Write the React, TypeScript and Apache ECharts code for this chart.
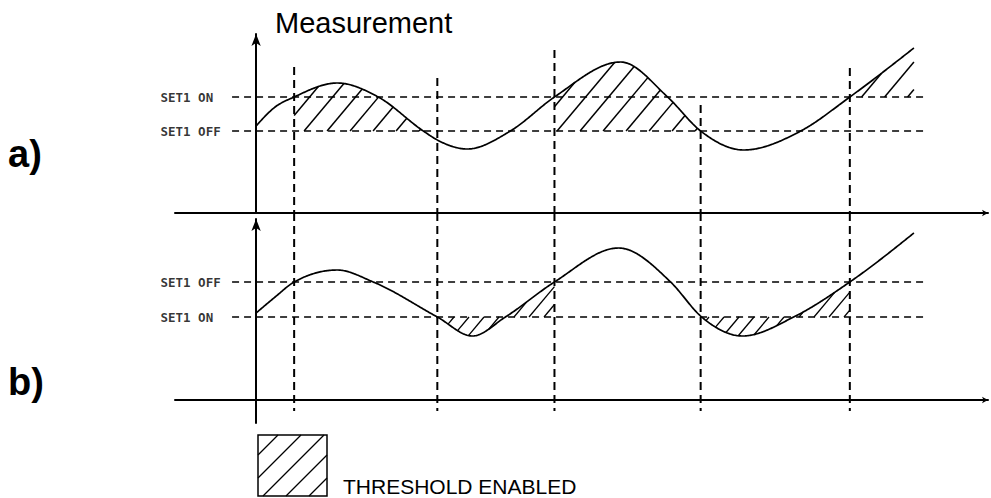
import React, { useEffect, useRef } from "react";
import * as echarts from "echarts";

// Measurement curve, panel a) : time (arbitrary units) and measured value
const curveTimeA = [0, 1.9, 3.8, 8.1, 12.2, 16.7, 18.1, 21.1, 25.4, 29.8, 36.4, 41.1, 44.4, 48.7, 54.4, 59.3, 65.7];
const curveValueA = [8.7, 10.6, 11.6, 13.0, 11.6, 8.2, 7.3, 6.4, 8.2, 11.6, 15.1, 11.6, 8.2, 6.3, 8.2, 11.6, 16.5];
// Measurement curve, panel b)
const curveTimeB = [0, 1.9, 3.8, 8.1, 11.7, 18.1, 21.6, 24.9, 29.8, 36.2, 41.4, 44.5, 48.6, 53.7, 59.3, 65.7];
const curveValueB = [8.7, 10.3, 11.8, 13.0, 11.8, 8.3, 6.4, 8.3, 11.8, 15.2, 11.8, 8.3, 6.4, 8.3, 11.8, 16.7];

// Thresholds
const thresholdNames = ["SET1 ON", "SET1 OFF"];
const thresholdA = [11.6, 8.2];
const thresholdB = [8.3, 11.8];
const thresholdSpanA = [-2.4, 66.7];
const thresholdSpanB = [-2.4, 66.9];

// Switching instants (vertical dashed lines)
const switchTimes = [3.8, 18.1, 29.8, 44.4, 59.3];
const switchTopA = [14.6, 13.5, 16.3, 10.8, 14.5];
const switchSpanB = [18.7, -1.1];

// Threshold enabled intervals (hatched)
const hatchStartA = [3.8, 29.8, 59.3];
const hatchEndA = [18.1, 44.4, 65.7];
const hatchLevelA = [8.2, 8.2, 11.6];
const hatchStartB = [18.1, 44.4];
const hatchEndB = [29.8, 59.3];
const hatchLevelB = [8.3, 8.3];

function monotone(xs: number[], ys: number[]) {
  const n = xs.length;
  const h: number[] = [];
  const s: number[] = [];
  for (let i = 0; i < n - 1; i++) {
    h.push(xs[i + 1] - xs[i]);
    s.push((ys[i + 1] - ys[i]) / h[i]);
  }
  const m: number[] = new Array(n).fill(0);
  for (let i = 1; i < n - 1; i++) {
    const s0 = s[i - 1], s1 = s[i], h0 = h[i - 1], h1 = h[i];
    const p = (s0 * h1 + s1 * h0) / (h0 + h1);
    m[i] = (Math.sign(s0) + Math.sign(s1)) * Math.min(Math.abs(s0), Math.abs(s1), 0.5 * Math.abs(p)) || 0;
  }
  m[0] = (3 * s[0] - m[1]) / 2;
  m[n - 1] = (3 * s[n - 2] - m[n - 2]) / 2;
  return (x: number) => {
    let i = 0;
    while (i < n - 2 && x > xs[i + 1]) i++;
    const hh = h[i];
    const t = (x - xs[i]) / hh;
    const t2 = t * t, t3 = t2 * t;
    return (2 * t3 - 3 * t2 + 1) * ys[i] + (t3 - 2 * t2 + t) * hh * m[i] + (-2 * t3 + 3 * t2) * ys[i + 1] + (t3 - t2) * hh * m[i + 1];
  };
}

function hatchSegments(poly: number[][], spacing: number, angleDeg: number) {
  const a = (angleDeg * Math.PI) / 180;
  const nx = Math.sin(a), ny = Math.cos(a);
  const dx = Math.cos(a), dy = -Math.sin(a);
  const proj = poly.map((p) => p[0] * nx + p[1] * ny);
  const cmin = Math.min(...proj), cmax = Math.max(...proj);
  const step = spacing * nx;
  const segs: number[][][] = [];
  for (let k = Math.ceil(cmin / step); k <= Math.floor(cmax / step); k++) {
    const c = k * step;
    const pts: number[][] = [];
    for (let i = 0; i < poly.length; i++) {
      const j = (i + 1) % poly.length;
      const v1 = proj[i] - c, v2 = proj[j] - c;
      if ((v1 < 0) !== (v2 < 0)) {
        const t = v1 / (v1 - v2);
        const x = poly[i][0] + t * (poly[j][0] - poly[i][0]);
        const y = poly[i][1] + t * (poly[j][1] - poly[i][1]);
        pts.push([x, y, x * dx + y * dy]);
      }
    }
    pts.sort((u, v) => u[2] - v[2]);
    for (let q = 0; q + 1 < pts.length; q += 2) segs.push([pts[q], pts[q + 1]]);
  }
  return segs;
}

function curvePixels(api: any, ts: number[], vs: number[]) {
  const pts = ts.map((t, i) => api.coord([t, vs[i]]));
  const xs = pts.map((p: number[]) => p[0]);
  const ys = pts.map((p: number[]) => p[1]);
  return { xs, ys, f: monotone(xs, ys) };
}

function makeCurveSeries(gi: number, ts: number[], vs: number[]) {
  return {
    type: "custom",
    xAxisIndex: gi,
    yAxisIndex: gi,
    silent: true,
    z: 5,
    data: [[ts[0], vs[0]]],
    renderItem: (params: any, api: any) => {
      const { xs, f } = curvePixels(api, ts, vs);
      const points: number[][] = [];
      for (let x = xs[0]; x < xs[xs.length - 1]; x += 1) points.push([x, f(x)]);
      points.push([xs[xs.length - 1], f(xs[xs.length - 1])]);
      return {
        type: "polyline",
        shape: { points },
        style: { stroke: "#000", lineWidth: 1.7, fill: "none" },
      };
    },
  };
}

function makeHatchSeries(gi: number, ts: number[], vs: number[], starts: number[], ends: number[], levels: number[], onlyAbove: boolean, spacing: number, angle: number, lw: number) {
  return {
    type: "custom",
    xAxisIndex: gi,
    yAxisIndex: gi,
    silent: true,
    z: 4,
    encode: { x: [0, 1], y: 2 },
    data: starts.map((s, i) => [s, ends[i], levels[i]]),
    renderItem: (params: any, api: any) => {
      const { f } = curvePixels(api, ts, vs);
      const p0 = api.coord([api.value(0), api.value(2)]);
      const p1 = api.coord([api.value(1), api.value(2)]);
      const Ly = p0[1];
      const poly: number[][] = [];
      for (let x = p0[0]; x < p1[0]; x += 1) {
        const y = f(x);
        poly.push([x, onlyAbove ? Math.min(y, Ly) : y]);
      }
      const ye = f(p1[0]);
      poly.push([p1[0], onlyAbove ? Math.min(ye, Ly) : ye]);
      poly.push([p1[0], Ly]);
      poly.push([p0[0], Ly]);
      const segs = hatchSegments(poly, spacing, angle);
      return {
        type: "group",
        children: segs.map((sg) => ({
          type: "line",
          shape: { x1: sg[0][0], y1: sg[0][1], x2: sg[1][0], y2: sg[1][1] },
          style: { stroke: "#000", lineWidth: lw },
        })),
      };
    },
  };
}

function makeVerticalSeries(gi: number, times: number[], tops: number[], bottoms: number[]) {
  return {
    type: "custom",
    xAxisIndex: gi,
    yAxisIndex: gi,
    silent: true,
    z: 3,
    encode: { x: 0, y: [1, 2] },
    data: times.map((t, i) => [t, tops[i], bottoms[i]]),
    renderItem: (params: any, api: any) => {
      const a = api.coord([api.value(0), api.value(1)]);
      const b = api.coord([api.value(0), api.value(2)]);
      return {
        type: "line",
        shape: { x1: a[0], y1: a[1], x2: b[0], y2: b[1] },
        style: { stroke: "#000", lineWidth: 2, lineDash: [8, 5] },
      };
    },
  };
}

function makeThresholdSeries(gi: number, levels: number[], span: number[]) {
  return levels.map((l) => ({
    type: "line",
    xAxisIndex: gi,
    yAxisIndex: gi,
    silent: true,
    symbol: "none",
    z: 3,
    data: [
      [span[0], l],
      [span[1], l],
    ],
    lineStyle: { color: "#000", width: 1.5, type: [7, 5] },
  }));
}

function makeLabelSeries(gi: number, levels: number[]) {
  return {
    type: "scatter",
    xAxisIndex: gi,
    yAxisIndex: gi,
    silent: true,
    clip: false,
    symbolSize: 1,
    itemStyle: { color: "rgba(0,0,0,0)" },
    data: levels.map((l, i) => ({ value: [-9.6, l], name: thresholdNames[i] })),
    label: {
      show: true,
      position: "right",
      distance: 0,
      formatter: "{b}",
      color: "#000",
      fontFamily: "DejaVu Sans Mono",
      fontWeight: "bold",
      fontSize: 12.5,
    },
  };
}

const axisLineStyle = { color: "#000", width: 2 };

export default function App() {
  const ref = useRef<HTMLDivElement>(null);
  useEffect(() => {
    if (!ref.current) return;
    const chart = echarts.init(ref.current, null, { renderer: "svg" });

    const legendPoly = [
      [258, 435],
      [327, 435],
      [327, 496],
      [258, 496],
    ];
    const legendSegs = hatchSegments(legendPoly, 23, 45);

    const xAxisBase = (gi: number) => ({
      gridIndex: gi,
      type: "value",
      min: -8.1,
      max: 73.1,
      axisLine: { show: true, onZero: true, symbol: ["none", "arrow"], symbolSize: [5, 6], lineStyle: axisLineStyle },
      axisTick: { show: false },
      axisLabel: { show: false },
      splitLine: { show: false },
    });
    const yAxisBase = (gi: number, min: number, max: number) => ({
      gridIndex: gi,
      type: "value",
      min,
      max,
      axisLine: { show: true, onZero: true, symbol: ["none", "arrow"], symbolSize: [7, 12], lineStyle: axisLineStyle },
      axisTick: { show: false },
      axisLabel: { show: false },
      splitLine: { show: false },
    });

    const option: any = {
      animation: false,
      backgroundColor: "#fff",
      grid: [
        { left: 175, right: 3, top: 34, height: 179 },
        { left: 175, right: 3, top: 219, height: 204 },
      ],
      xAxis: [xAxisBase(0), xAxisBase(1)],
      yAxis: [yAxisBase(0, 0, 17.9), yAxisBase(1, -2.3, 18.1)],
      series: [
        ...makeThresholdSeries(0, thresholdA, thresholdSpanA),
        ...makeThresholdSeries(1, thresholdB, thresholdSpanB),
        makeLabelSeries(0, thresholdA),
        makeLabelSeries(1, thresholdB),
        makeVerticalSeries(0, switchTimes, switchTopA, switchTimes.map(() => 0)),
        makeVerticalSeries(1, switchTimes, switchTimes.map(() => switchSpanB[0]), switchTimes.map(() => switchSpanB[1])),
        makeHatchSeries(0, curveTimeA, curveValueA, hatchStartA, hatchEndA, hatchLevelA, true, 23, 50, 1.5),
        makeHatchSeries(1, curveTimeB, curveValueB, hatchStartB, hatchEndB, hatchLevelB, false, 15, 50, 1.3),
        makeCurveSeries(0, curveTimeA, curveValueA),
        makeCurveSeries(1, curveTimeB, curveValueB),
      ],
      graphic: [
        {
          type: "text",
          x: 275,
          y: 23,
          style: { text: "Measurement", fontSize: 29, fontFamily: "Liberation Sans, Arial, sans-serif", fill: "#000", verticalAlign: "middle" },
        },
        {
          type: "text",
          x: 8,
          y: 154,
          style: { text: "a)", fontSize: 38, fontWeight: "bold", fontFamily: "Liberation Sans, Arial, sans-serif", fill: "#000", verticalAlign: "middle" },
        },
        {
          type: "text",
          x: 8,
          y: 382,
          style: { text: "b)", fontSize: 38, fontWeight: "bold", fontFamily: "Liberation Sans, Arial, sans-serif", fill: "#000", verticalAlign: "middle" },
        },
        {
          type: "rect",
          shape: { x: 258, y: 435, width: 69, height: 61 },
          style: { fill: "none", stroke: "#000", lineWidth: 1.5 },
        },
        ...legendSegs.map((sg) => ({
          type: "line",
          shape: { x1: sg[0][0], y1: sg[0][1], x2: sg[1][0], y2: sg[1][1] },
          style: { stroke: "#000", lineWidth: 1.3 },
        })),
        {
          type: "text",
          x: 343,
          y: 486,
          style: { text: "THRESHOLD ENABLED", fontSize: 21, fontFamily: "Liberation Sans, Arial, sans-serif", fill: "#000", verticalAlign: "middle" },
        },
      ],
    };
    chart.setOption(option);
    return () => chart.dispose();
  }, []);
  return <div ref={ref} style={{ position: "absolute", left: 0, top: 0, width: 991, height: 498, background: "#fff" }} />;
}
